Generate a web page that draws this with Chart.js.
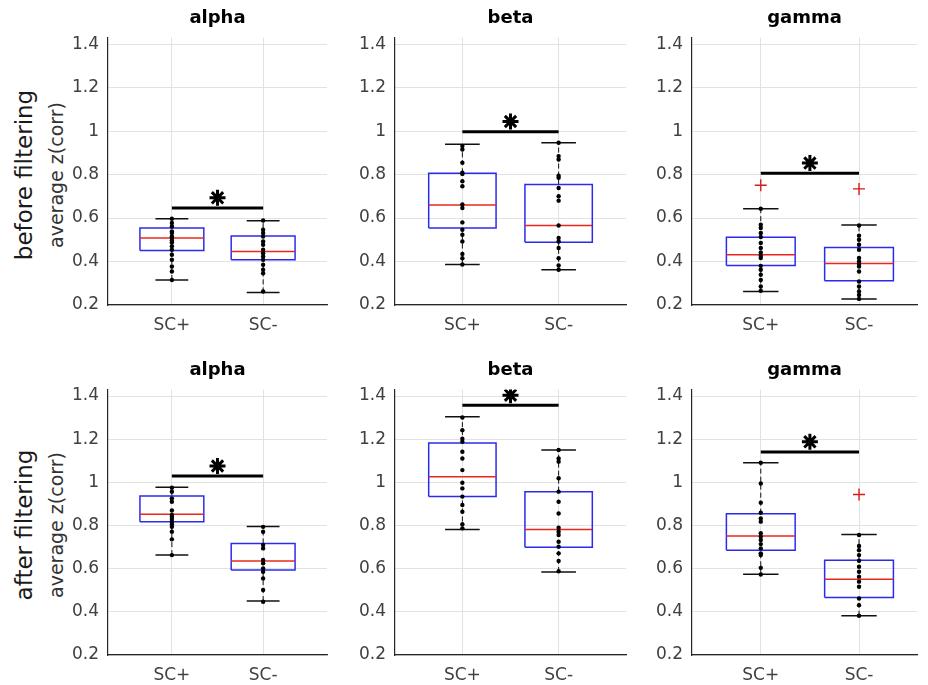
<!DOCTYPE html>
<html>
<head>
<meta charset="utf-8">
<script src="https://cdn.jsdelivr.net/npm/chart.js@4.4.1/dist/chart.umd.min.js"></script>
<style>
    html, body { margin: 0; padding: 0; background: #fff; overflow: hidden; }
    body { width: 928px; height: 685px; position: relative; font-family: 'DejaVu Sans', sans-serif; }
    canvas { position: absolute; }
    .rowlabel { position: absolute; white-space: nowrap; transform: translate(-50%, -50%) rotate(-90deg); }
    .big { font-size: 23px; color: #1a1a1a; }
    .small { font-size: 19px; color: #333; }
</style>
</head>
<body>
<div class="rowlabel big" style="left:24px; top:175px;">before filtering</div>
<div class="rowlabel small" style="left:56px; top:175px;">average z(corr)</div>
<div class="rowlabel big" style="left:24px; top:525px;">after filtering</div>
<div class="rowlabel small" style="left:56px; top:525px;">average z(corr)</div>

<canvas id="c00"></canvas>
<canvas id="c01"></canvas>
<canvas id="c02"></canvas>
<canvas id="c10"></canvas>
<canvas id="c11"></canvas>
<canvas id="c12"></canvas>

<script>
// Labels
const groups = ['SC+', 'SC-'];
const bands = ['alpha', 'beta', 'gamma'];
const yTicks = [0.2, 0.4, 0.6, 0.8, 1.0, 1.2, 1.4];

// Box stats per group: [lower whisker, q1, median, q3, upper whisker]
const boxBeforeAlpha = [[0.315, 0.451, 0.508, 0.554, 0.597], [0.258, 0.408, 0.446, 0.517, 0.588]];
const boxBeforeBeta  = [[0.386, 0.554, 0.660, 0.806, 0.940], [0.362, 0.489, 0.566, 0.754, 0.946]];
const boxBeforeGamma = [[0.262, 0.382, 0.431, 0.512, 0.643], [0.228, 0.311, 0.391, 0.465, 0.568]];
const boxAfterAlpha  = [[0.663, 0.818, 0.852, 0.937, 0.977], [0.450, 0.594, 0.636, 0.717, 0.795]];
const boxAfterBeta   = [[0.782, 0.934, 1.026, 1.182, 1.304], [0.585, 0.699, 0.782, 0.957, 1.150]];
const boxAfterGamma  = [[0.574, 0.685, 0.751, 0.855, 1.091], [0.382, 0.466, 0.551, 0.639, 0.758]];

// Individual subjects
const dotsBeforeAlpha = [
    [0.597, 0.577, 0.561, 0.538, 0.531, 0.515, 0.508, 0.497, 0.488, 0.470, 0.454, 0.431, 0.408, 0.377, 0.354, 0.315],
    [0.589, 0.546, 0.531, 0.515, 0.492, 0.477, 0.454, 0.438, 0.423, 0.408, 0.385, 0.362, 0.346, 0.262]
];
const dotsBeforeBeta = [
    [0.931, 0.915, 0.854, 0.808, 0.803, 0.769, 0.746, 0.662, 0.646, 0.580, 0.546, 0.523, 0.492, 0.435, 0.415, 0.386],
    [0.946, 0.885, 0.869, 0.795, 0.785, 0.738, 0.700, 0.680, 0.566, 0.508, 0.492, 0.462, 0.415, 0.382, 0.362]
];
const dotsBeforeGamma = [
    [0.643, 0.569, 0.554, 0.531, 0.513, 0.485, 0.462, 0.442, 0.426, 0.416, 0.380, 0.362, 0.339, 0.315, 0.285, 0.265],
    [0.566, 0.519, 0.500, 0.477, 0.454, 0.416, 0.400, 0.389, 0.377, 0.354, 0.308, 0.285, 0.262, 0.246, 0.228]
];
const dotsAfterAlpha = [
    [0.975, 0.957, 0.926, 0.910, 0.870, 0.849, 0.841, 0.830, 0.818, 0.805, 0.794, 0.771, 0.736, 0.663],
    [0.794, 0.771, 0.710, 0.694, 0.640, 0.625, 0.601, 0.586, 0.555, 0.501, 0.447]
];
const dotsAfterBeta = [
    [1.301, 1.242, 1.202, 1.188, 1.142, 1.111, 1.057, 0.998, 0.972, 0.934, 0.895, 0.864, 0.806, 0.787],
    [1.150, 1.111, 1.096, 1.019, 0.957, 0.910, 0.856, 0.790, 0.771, 0.756, 0.725, 0.702, 0.671, 0.636, 0.588]
];
const dotsAfterGamma = [
    [1.091, 0.995, 0.906, 0.859, 0.833, 0.818, 0.764, 0.748, 0.733, 0.714, 0.694, 0.671, 0.663, 0.604, 0.573],
    [0.756, 0.705, 0.686, 0.663, 0.637, 0.609, 0.586, 0.563, 0.540, 0.516, 0.462, 0.431, 0.382]
];

// Outliers (red +)
const outBeforeGamma = [[0.751], [0.734]];
const outAfterGamma = [[], [0.944]];
const noOutliers = [[], []];

// Significance bar heights, per band
const sigBefore = [0.646, 0.997, 0.806];
const sigAfter = [1.029, 1.357, 1.141];

// Style / layout constants
const FONT = "'DejaVu Sans', sans-serif";
const BOX_HALF = 0.35;
const CAP_HALF = 0.18;
const STAR_OFFSET = 0.047;
const Y_AXIS_W = 60;
const colAxisX = [108, 395, 692];
const plotW = [230, 242, 236];
const xMax = [2.7, 2.7, 2.59];
const rowTop = [0, 352];
const rowH = [345, 333];
const xAxisH = [40, 30];

function seg(x1, y1, x2, y2) {
    return [{ x: x1, y: y1 }, { x: x2, y: y2 }];
}

function lineSet(data, color, width, dash) {
    return {
        data: data,
        showLine: true,
        borderColor: color,
        borderWidth: width,
        borderDash: dash || [],
        pointRadius: 0,
        fill: false,
        tension: 0
    };
}

function buildDatasets(box, dots, outliers, sigY) {
    const sets = [];
    // dots on top
    for (let g = 0; g < 2; g++) {
        sets.push({
            data: dots[g].map(v => ({ x: g + 1, y: v })),
            pointRadius: 2.2,
            backgroundColor: '#000',
            borderWidth: 0
        });
    }
    // outliers
    for (let g = 0; g < 2; g++) {
        sets.push({
            data: outliers[g].map(v => ({ x: g + 1, y: v })),
            pointStyle: 'cross',
            pointRadius: 6,
            borderColor: '#d41a1a',
            borderWidth: 1.4
        });
    }
    // asterisk + significance bar
    sets.push({
        data: [{ x: 1.5, y: sigY + STAR_OFFSET }],
        pointStyle: 'star',
        pointRadius: 8,
        borderColor: '#000',
        borderWidth: 3
    });
    sets.push(lineSet(seg(1, sigY, 2, sigY), '#000', 3));
    for (let g = 0; g < 2; g++) {
        const x = g + 1;
        const [lo, q1, med, q3, hi] = box[g];
        sets.push(lineSet(seg(x - BOX_HALF, med, x + BOX_HALF, med), '#e8281e', 1.5));
        sets.push(lineSet([
            { x: x - BOX_HALF, y: q1 }, { x: x + BOX_HALF, y: q1 },
            { x: x + BOX_HALF, y: q3 }, { x: x - BOX_HALF, y: q3 },
            { x: x - BOX_HALF, y: q1 }
        ], '#2b2bf0', 1.5));
        sets.push(lineSet(seg(x - CAP_HALF, hi, x + CAP_HALF, hi), '#111', 1.5));
        sets.push(lineSet(seg(x - CAP_HALF, lo, x + CAP_HALF, lo), '#111', 1.5));
        sets.push(lineSet(seg(x, q3, x, hi), '#111', 1, [5, 3]));
        sets.push(lineSet(seg(x, lo, x, q1), '#111', 1, [5, 3]));
    }
    return sets;
}

function makePanel(row, col, box, dots, outliers, sigY) {
    const canvas = document.getElementById('c' + row + col);
    const w = Y_AXIS_W + plotW[col];
    const h = rowH[row];
    canvas.width = w;
    canvas.height = h;
    canvas.style.left = (colAxisX[col] - Y_AXIS_W) + 'px';
    canvas.style.top = rowTop[row] + 'px';

    new Chart(canvas.getContext('2d'), {
        type: 'scatter',
        data: { datasets: buildDatasets(box, dots, outliers, sigY) },
        options: {
            responsive: false,
            animation: false,
            events: [],
            layout: { padding: 0 },
            plugins: {
                legend: { display: false },
                tooltip: { enabled: false },
                title: {
                    display: true,
                    text: bands[col],
                    fullSize: false,
                    color: '#000',
                    font: { family: FONT, size: 18, weight: 'bold' },
                    padding: { top: 8, bottom: 8 }
                }
            },
            scales: {
                x: {
                    type: 'linear',
                    min: 0.3,
                    max: xMax[col],
                    afterBuildTicks: axis => { axis.ticks = [{ value: 1 }, { value: 2 }]; },
                    afterFit: axis => { axis.height = xAxisH[row]; },
                    ticks: {
                        callback: v => groups[Math.round(v) - 1],
                        color: '#404040',
                        padding: 10,
                        autoSkip: false,
                        maxRotation: 0,
                        font: { family: FONT, size: 17 }
                    },
                    grid: { color: '#e2e2e2', drawTicks: false },
                    border: { display: true, color: '#262626', width: 1.2 }
                },
                y: {
                    type: 'linear',
                    min: 0.2,
                    max: 1.43,
                    afterBuildTicks: axis => { axis.ticks = yTicks.map(v => ({ value: v })); },
                    afterFit: axis => { axis.width = Y_AXIS_W; },
                    ticks: {
                        callback: v => String(Math.round(v * 10) / 10),
                        color: '#404040',
                        padding: 9,
                        font: { family: FONT, size: 17 }
                    },
                    grid: { color: '#e2e2e2', drawTicks: false },
                    border: { display: true, color: '#262626', width: 1.2 }
                }
            }
        }
    });
}

makePanel(0, 0, boxBeforeAlpha, dotsBeforeAlpha, noOutliers, sigBefore[0]);
makePanel(0, 1, boxBeforeBeta, dotsBeforeBeta, noOutliers, sigBefore[1]);
makePanel(0, 2, boxBeforeGamma, dotsBeforeGamma, outBeforeGamma, sigBefore[2]);
makePanel(1, 0, boxAfterAlpha, dotsAfterAlpha, noOutliers, sigAfter[0]);
makePanel(1, 1, boxAfterBeta, dotsAfterBeta, noOutliers, sigAfter[1]);
makePanel(1, 2, boxAfterGamma, dotsAfterGamma, outAfterGamma, sigAfter[2]);
</script>
</body>
</html>
